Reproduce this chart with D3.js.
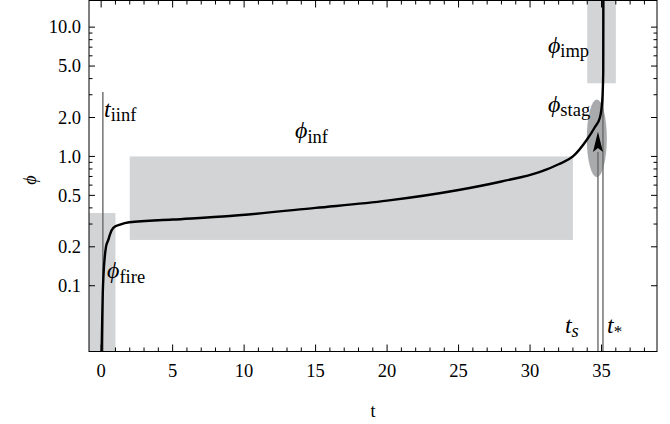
<!DOCTYPE html>
<html>
<head>
<meta charset="utf-8">
<script src="https://cdn.jsdelivr.net/npm/d3@7/dist/d3.min.js"></script>
<style>
  html, body { margin: 0; padding: 0; background: #fff; }
  svg { display: block; }
</style>
</head>
<body>
<svg id="chart" width="670" height="424" font-family="'Liberation Serif', 'Times New Roman', Times, serif"></svg>
<script>
// Trajectory of the order parameter phi over time t
const tValues   = [0.02, 0.13, 0.34, 0.50, 0.62, 0.85, 1.32, 1.97, 5.0, 9.0, 15.0, 20.0, 25.0, 28.0, 30.7, 32.0, 33.0, 33.96, 34.54, 34.89, 35.05, 35.12, 35.13];
const phiValues = [0.025, 0.10, 0.20, 0.226, 0.25, 0.28, 0.297, 0.31, 0.325, 0.346, 0.40, 0.455, 0.55, 0.64, 0.76, 0.87, 1.0, 1.34, 1.69, 2.0, 2.7, 4.5, 17];

// Shaded regimes: [t0, t1, phi0, phi1]
const regionNames = ["fire", "inf", "imp"];
const regionT0    = [-2, 2.0, 34.0];
const regionT1    = [1.0, 33.0, 36.0];
const regionPhi0  = [0.01, 0.226, 3.68];
const regionPhi1  = [0.365, 1.0, 30];

// Stagnation ellipse: centre (t, phi), half width in t, half height in log10(phi)
const stagCentre = [34.67, 1.38];
const stagHalfT = 0.70;
const stagHalfLog = 0.30;

// Marked instants
const tIinf = 0.12, tIinfTop = 3.15;
const tS = 34.75, tStar = 35.1;
const arrowTip = 1.55, arrowBase = 1.08;

// Axis ticks
const xMajor = [0, 5, 10, 15, 20, 25, 30, 35];
const xMinor = d3.range(0, 39).filter(v => v % 5 !== 0);
const yMajor = [0.1, 0.2, 0.5, 1, 2, 5, 10];
const yMajorLabels = ["0.1", "0.2", "0.5", "1.0", "2.0", "5.0", "10.0"];
const yMinor = [0.3, 0.4, 0.6, 0.7, 0.8, 0.9, 3, 4, 6, 7, 8, 9];

const svg = d3.select("#chart");
const plotL = 89, plotR = 657, plotT = 0.5, plotB = 351.5;

const x = d3.scaleLinear().domain([-0.85, 38.88]).range([plotL, plotR]);
const y = d3.scaleLog().domain([0.031, 16.07]).range([plotB, plotT]);

svg.append("defs").append("clipPath").attr("id", "plot-clip")
  .append("rect").attr("x", plotL).attr("y", plotT)
  .attr("width", plotR - plotL).attr("height", plotB - plotT);

const plot = svg.append("g").attr("clip-path", "url(#plot-clip)");

// regime boxes
plot.selectAll("rect.region").data(regionNames).enter().append("rect")
  .attr("class", "region")
  .attr("x", (d, i) => x(regionT0[i]))
  .attr("width", (d, i) => x(regionT1[i]) - x(regionT0[i]))
  .attr("y", (d, i) => y(regionPhi1[i]))
  .attr("height", (d, i) => y(regionPhi0[i]) - y(regionPhi1[i]))
  .attr("fill", "#d3d4d6");

// stagnation ellipse
const logC = Math.log10(stagCentre[1]);
plot.append("ellipse")
  .attr("cx", x(stagCentre[0]))
  .attr("cy", y(stagCentre[1]))
  .attr("rx", x(stagCentre[0] + stagHalfT) - x(stagCentre[0]))
  .attr("ry", (y(Math.pow(10, logC - stagHalfLog)) - y(Math.pow(10, logC + stagHalfLog))) / 2)
  .attr("fill", "#a9aaac");

// vertical markers
const markerColor = "#6a6a6a";
plot.append("line")
  .attr("x1", x(tIinf)).attr("x2", x(tIinf))
  .attr("y1", y(tIinfTop)).attr("y2", plotB)
  .attr("stroke", markerColor).attr("stroke-width", 1.4);
plot.append("line")
  .attr("x1", x(tS)).attr("x2", x(tS))
  .attr("y1", y(arrowBase)).attr("y2", plotB)
  .attr("stroke", markerColor).attr("stroke-width", 1.4);
plot.append("line")
  .attr("x1", x(tStar)).attr("x2", x(tStar))
  .attr("y1", plotT).attr("y2", plotB)
  .attr("stroke", markerColor).attr("stroke-width", 1.4);

// arrow head on t_s
const ax = x(tS), ayTip = y(arrowTip), ayBase = y(arrowBase);
plot.append("path")
  .attr("d", `M${ax},${ayTip} L${ax + 5},${ayBase} L${ax},${ayBase - 4} L${ax - 5},${ayBase} Z`)
  .attr("fill", "#000");

// trajectory
const pts = tValues.map((t, i) => [t, phiValues[i]]);
const line = d3.line()
  .x(d => x(d[0]))
  .y(d => y(d[1]))
  .curve(d3.curveMonotoneX);
plot.append("path")
  .attr("d", line(pts))
  .attr("fill", "none")
  .attr("stroke", "#000")
  .attr("stroke-width", 2.4)
  .attr("stroke-linejoin", "round");

// frame
svg.append("rect")
  .attr("x", plotL).attr("y", plotT)
  .attr("width", plotR - plotL).attr("height", plotB - plotT)
  .attr("fill", "none").attr("stroke", "#000").attr("stroke-width", 1);

// ticks on all four sides
const tickG = svg.append("g").attr("stroke", "#000").attr("stroke-width", 1);
function vTicks(vals, len) {
  vals.forEach(v => {
    const px = x(v);
    tickG.append("line").attr("x1", px).attr("x2", px).attr("y1", plotB).attr("y2", plotB - len);
    tickG.append("line").attr("x1", px).attr("x2", px).attr("y1", plotT).attr("y2", plotT + len);
  });
}
function hTicks(vals, len) {
  vals.forEach(v => {
    const py = y(v);
    tickG.append("line").attr("x1", plotL).attr("x2", plotL + len).attr("y1", py).attr("y2", py);
    tickG.append("line").attr("x1", plotR).attr("x2", plotR - len).attr("y1", py).attr("y2", py);
  });
}
vTicks(xMajor, 7);
vTicks(xMinor, 4);
hTicks(yMajor, 6);
hTicks(yMinor, 3.5);

// tick labels
const tickFont = 18.5;
svg.append("g").selectAll("text").data(xMajor).enter().append("text")
  .attr("x", d => x(d)).attr("y", 376.5)
  .attr("text-anchor", "middle").attr("font-size", tickFont)
  .text(d => d);
svg.append("g").selectAll("text").data(yMajor).enter().append("text")
  .attr("x", 81).attr("y", d => y(d))
  .attr("dy", "0.34em")
  .attr("text-anchor", "end").attr("font-size", tickFont)
  .text((d, i) => yMajorLabels[i]);

// axis titles
svg.append("text")
  .attr("x", (plotL + plotR) / 2).attr("y", 417)
  .attr("text-anchor", "middle").attr("font-size", 18)
  .text("t");
svg.append("text")
  .attr("transform", `translate(36,${(plotT + plotB) / 2 + 4}) rotate(-90)`)
  .attr("text-anchor", "middle").attr("font-size", 18).attr("font-style", "italic")
  .text("\u03D5");

// annotations: [main symbol, subscript, t, phi, subscript italic]
const notes = [
  ["t", "iinf", 0.20, 2.02, false],
  ["\u03D5", "inf", 13.56, 1.388, false],
  ["\u03D5", "fire", 0.41, 0.1147, false],
  ["\u03D5", "imp", 31.25, 6.31, false],
  ["\u03D5", "stag", 31.25, 2.21, false],
  ["t", "s", 32.44, 0.0431, true],
  ["t", "*", 35.38, 0.0431, false]
];
notes.forEach(n => {
  const txt = svg.append("text")
    .attr("x", x(n[2])).attr("y", y(n[3]))
    .attr("font-size", 24);
  txt.append("tspan").attr("font-style", "italic").text(n[0]);
  txt.append("tspan")
    .attr("font-size", n[1] === "*" ? 17 : 18.5)
    .attr("font-style", n[4] ? "italic" : "normal")
    .attr("dy", 4.5)
    .text(n[1]);
});
</script>
</body>
</html>
